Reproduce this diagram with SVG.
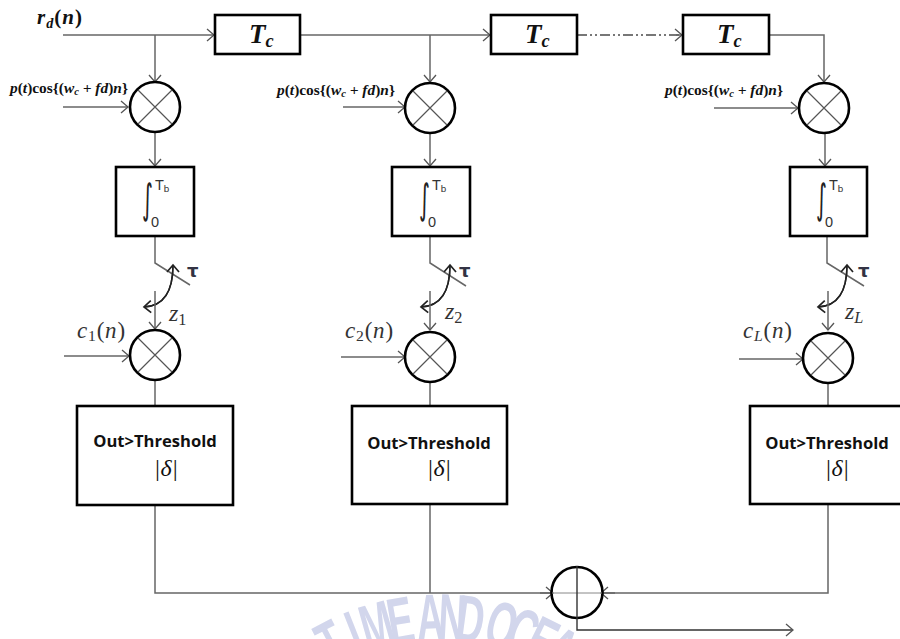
<svg xmlns="http://www.w3.org/2000/svg" width="900" height="639" viewBox="0 0 900 639">
<style>
text{font-family:"Liberation Serif",serif;fill:#111}
.wm{font-family:"Liberation Sans",sans-serif;font-weight:700;font-size:66px;fill:#d2d6ec;text-anchor:middle}
.box{fill:#fff;stroke:#000;stroke-width:2.6}
.mul{fill:#fff;stroke:#000;stroke-width:2.6}
.cross{stroke:#555;stroke-width:1.2;fill:none}
.c{fill:none;stroke:#666;stroke-width:1.5}
.ca{fill:none;stroke:#666;stroke-width:1.5;marker-end:url(#a)}
.cv{fill:none;stroke:#222;stroke-width:1.5;marker-end:url(#b)}
.tc{font-weight:700;font-style:italic;font-size:27px}
.sub{font-size:.68em}
.up{font-style:normal}
.p{font-weight:700;font-size:15.4px}
.cn{font-style:italic;font-size:23px;fill:#333;letter-spacing:.8px}
.z{font-style:italic;font-size:24px;fill:#333}
.tau{font-family:"DejaVu Sans",sans-serif;font-weight:700;font-size:18px;fill:#334}
.ot{font-family:"Open Sans",sans-serif;font-weight:700;font-size:16.6px;fill:#111;text-anchor:middle}
.d{font-style:italic;font-size:24px;text-anchor:middle}
.int{font-family:"DejaVu Sans",sans-serif;font-size:30px;fill:#222}
.lim{font-family:"Liberation Sans",sans-serif;font-size:14.5px;fill:#333}
</style>
<defs>
<marker id="a" markerUnits="userSpaceOnUse" markerWidth="12" markerHeight="14" refX="10" refY="7" orient="auto"><path d="M3,1 L10,7 L3,13" fill="none" stroke="#555" stroke-width="1.3"/></marker>
<marker id="b" markerUnits="userSpaceOnUse" markerWidth="12" markerHeight="14" refX="10" refY="7" orient="auto"><path d="M3,1 L10,7 L3,13" fill="none" stroke="#222" stroke-width="1.7"/></marker>
<g id="x"><circle class="mul" r="25"/><path class="cross" d="M-17,-17 L17,17 M17,-17 L-17,17"/></g>
</defs>
<rect width="900" height="639" fill="#fff"/>
<g id="watermark">
<text class="wm" transform="rotate(-27.7 440 850) translate(440 640) scale(.58 1)">T</text>
<text class="wm" transform="rotate(-21.6 440 850) translate(440 640) scale(.58 1)">I</text>
<text class="wm" transform="rotate(-15.7 440 850) translate(440 640) scale(.58 1)">M</text>
<text class="wm" transform="rotate(-9.8 440 850) translate(440 640) scale(.58 1)">E</text>
<text class="wm" transform="rotate(-2.4 440 850) translate(440 640) scale(.58 1)">A</text>
<text class="wm" transform="rotate(3 440 850) translate(440 640) scale(.58 1)">N</text>
<text class="wm" transform="rotate(7.6 440 850) translate(440 640) scale(.58 1)">D</text>
<text class="wm" transform="rotate(15.4 440 850) translate(440 640) scale(.58 1)">O</text>
<text class="wm" transform="rotate(20.8 440 850) translate(440 640) scale(.58 1)">C</text>
<text class="wm" transform="rotate(26 440 850) translate(440 640) scale(.58 1)">E</text>
<text class="wm" transform="rotate(31 440 850) translate(440 640) scale(.58 1)">A</text>
</g>
<g id="connectors">
<path class="ca" d="M63,35 H214"/>
<path class="ca" d="M300,35 H490"/>
<path d="M577,35 H683" fill="none" stroke="#777" stroke-width="2" stroke-dasharray="10 3 2 3 2 3"/>
<path class="ca" d="M676,35 H682"/>
<path class="ca" d="M769,35 H824 V82"/>
<path class="ca" d="M155,35 V82"/>
<path class="ca" d="M430,35 V82"/>
<path class="ca" d="M63,107 H128"/>
<path class="ca" d="M343,107 H405"/>
<path class="ca" d="M714,108 H798"/>
<path class="ca" d="M155,133 V166"/>
<path class="ca" d="M430,133 V166"/>
<path class="ca" d="M825,133 V166"/>
<path class="c" d="M155,236 V263 L190,285"/>
<path class="c" d="M430,236 V263 L466,286"/>
<path class="c" d="M827,236 V263 L864,286"/>
<path class="cv" d="M144,307 C168,306 173,285 173,265"/>
<path class="cv" d="M173,265 C173,285 168,306 144,307"/>
<path class="cv" d="M421,307 C445,306 450,285 450,265"/>
<path class="cv" d="M450,265 C450,285 445,306 421,307"/>
<path class="cv" d="M818,307 C842,306 847,285 847,265"/>
<path class="cv" d="M847,265 C847,285 842,306 818,307"/>
<path class="ca" d="M155,291 V329"/>
<path class="ca" d="M430,291 V330"/>
<path class="ca" d="M828,291 V330"/>
<path class="ca" d="M64,356 H129"/>
<path class="ca" d="M341,357 H405"/>
<path class="ca" d="M739,359 H803"/>
<path class="c" d="M155,380 V406"/>
<path class="c" d="M430,382 V406"/>
<path class="c" d="M828,383 V406"/>
<path class="c" d="M155,505 V593 H552"/>
<path class="c" d="M430,504 V593"/>
<path class="c" d="M828,504 V593 H602"/>
<path class="ca" d="M540,593 H553"/>
<path class="ca" d="M615,593 H601"/>
</g>
<g id="input-label"><text x="37" y="24" font-weight="700" font-style="italic" font-size="21" letter-spacing="1">r<tspan class="sub" dy="4">d</tspan><tspan dy="-4"><tspan class="up">(</tspan>n<tspan class="up">)</tspan></tspan></text></g>
<g id="delay1"><rect class="box" x="215" y="15" width="85" height="39"/><text class="tc" x="249" y="43">T<tspan class="sub" dy="4">c</tspan></text></g>
<g id="delay2"><rect class="box" x="491" y="15" width="86" height="39"/><text class="tc" x="525" y="43">T<tspan class="sub" dy="4">c</tspan></text></g>
<g id="delay3"><rect class="box" x="683" y="15" width="86" height="39"/><text class="tc" x="717" y="43">T<tspan class="sub" dy="4">c</tspan></text></g>
<g id="carrier1"><text class="p" x="10" y="93"><tspan font-style="italic">p</tspan>(<tspan font-style="italic">t</tspan>)cos{(<tspan font-style="italic">w<tspan class="sub" dy="2">c</tspan><tspan dy="-2"> + fd</tspan></tspan>)<tspan font-style="italic">n</tspan>}</text></g>
<g id="carrier2"><text class="p" x="277" y="95"><tspan font-style="italic">p</tspan>(<tspan font-style="italic">t</tspan>)cos{(<tspan font-style="italic">w<tspan class="sub" dy="2">c</tspan><tspan dy="-2"> + fd</tspan></tspan>)<tspan font-style="italic">n</tspan>}</text></g>
<g id="carrier3"><text class="p" x="665" y="95"><tspan font-style="italic">p</tspan>(<tspan font-style="italic">t</tspan>)cos{(<tspan font-style="italic">w<tspan class="sub" dy="2">c</tspan><tspan dy="-2"> + fd</tspan></tspan>)<tspan font-style="italic">n</tspan>}</text></g>
<g id="mix1"><use href="#x" x="155" y="107"/></g>
<g id="mix2"><use href="#x" x="430" y="108"/></g>
<g id="mix3"><use href="#x" x="824" y="108"/></g>
<g id="int1"><rect class="box" x="116" y="167" width="78" height="69"/><text class="int" transform="translate(142 213) scale(.7 1.35)">∫</text><text class="lim" x="155" y="190">T<tspan class="sub" dy="2">b</tspan></text><text class="lim" x="151" y="227">0</text></g>
<g id="int2"><rect class="box" x="392" y="167" width="78" height="69"/><text class="int" transform="translate(419 213) scale(.7 1.35)">∫</text><text class="lim" x="432" y="190">T<tspan class="sub" dy="2">b</tspan></text><text class="lim" x="428" y="227">0</text></g>
<g id="int3"><rect class="box" x="790" y="167" width="77" height="69"/><text class="int" transform="translate(816 213) scale(.7 1.35)">∫</text><text class="lim" x="829" y="190">T<tspan class="sub" dy="2">b</tspan></text><text class="lim" x="825" y="227">0</text></g>
<g id="switch-labels">
<text class="tau" x="187" y="277">τ</text><text class="tau" x="459" y="277">τ</text><text class="tau" x="858" y="277">τ</text>
<text class="z" x="169" y="321">z<tspan class="sub up" dy="4">1</tspan></text>
<text class="z" x="445" y="319">z<tspan class="sub up" dy="4">2</tspan></text>
<text class="z" x="845" y="319">z<tspan class="sub" dy="4">L</tspan></text>
</g>
<g id="code-labels">
<text class="cn" x="77" y="338">c<tspan class="sub up" dy="3">1</tspan><tspan dy="-3"><tspan class="up">(</tspan>n<tspan class="up">)</tspan></tspan></text>
<text class="cn" x="345" y="338">c<tspan class="sub up" dy="3">2</tspan><tspan dy="-3"><tspan class="up">(</tspan>n<tspan class="up">)</tspan></tspan></text>
<text class="cn" x="743" y="338">c<tspan class="sub" dy="3">L</tspan><tspan dy="-3"><tspan class="up">(</tspan>n<tspan class="up">)</tspan></tspan></text>
</g>
<g id="mixc1"><use href="#x" x="155" y="355"/></g>
<g id="mixc2"><use href="#x" x="430" y="357"/></g>
<g id="mixc3"><use href="#x" x="828" y="358"/></g>
<g id="thr1"><rect class="box" x="77" y="406" width="156" height="99"/><text class="ot" x="155" y="447">Out&gt;Threshold</text><text class="d" x="166" y="476">|δ|</text></g>
<g id="thr2"><rect class="box" x="352" y="406" width="155" height="98"/><text class="ot" x="429" y="449">Out&gt;Threshold</text><text class="d" x="439" y="476">|δ|</text></g>
<g id="thr3"><rect class="box" x="750" y="406" width="160" height="98"/><text class="ot" x="827" y="449">Out&gt;Threshold</text><text class="d" x="837" y="476">|δ|</text></g>
<g id="sum"><circle class="mul" cx="577" cy="592.5" r="25.5" style="fill:none"/><path d="M552,593 H602" stroke="#888" stroke-width="1" fill="none"/><path d="M577,566 V630 H793" fill="none" stroke="#333" stroke-width="1.4" marker-end="url(#a)"/></g>
</svg>
